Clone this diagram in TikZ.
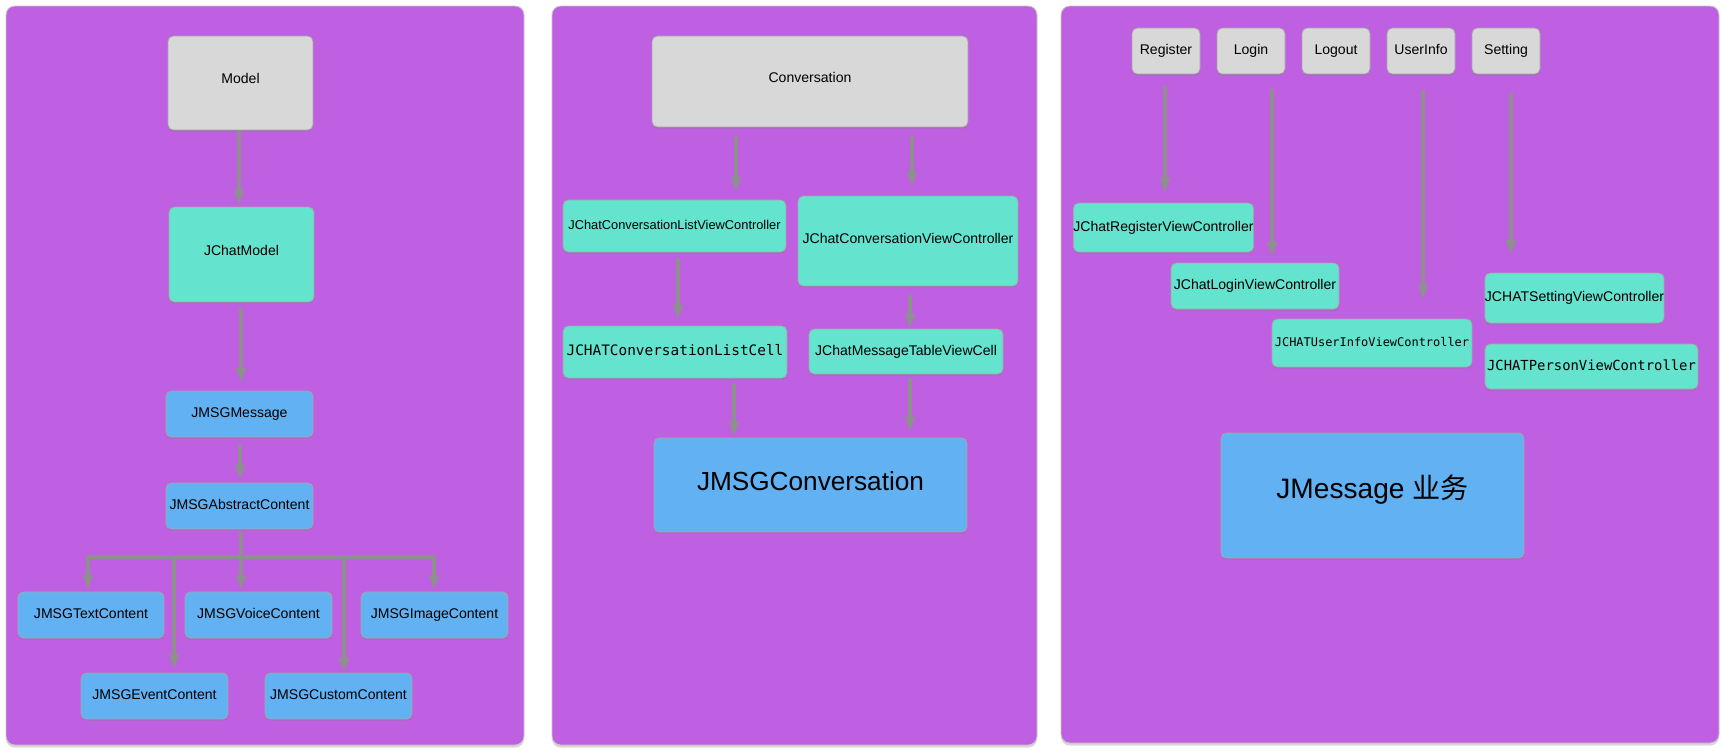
\documentclass[tikz,border=0pt]{standalone}
\usepackage{fontspec}
\setmainfont{Liberation Sans}
\setmonofont{DejaVu Sans Mono}
\newfontfamily\cjk{Noto Sans CJK SC}
\usetikzlibrary{arrows.meta,shadows}

\definecolor{panelpurple}{RGB}{191,95,226}
\definecolor{boxgray}{RGB}{216,216,216}
\definecolor{boxteal}{RGB}{100,227,207}
\definecolor{boxblue}{RGB}{98,177,243}
\definecolor{arrowgray}{RGB}{143,143,143}

\begin{document}
\begin{tikzpicture}[x=0.02cm,y=-0.02cm,shorten >=1pt]
  \tikzstyle{panel}=[fill=panelpurple,draw=black!22,line width=0.5pt,rounded corners=5pt,
    drop shadow={shadow xshift=0pt,shadow yshift=-1.5pt,opacity=0.3}]
  \tikzstyle{box}=[rectangle,rounded corners=3pt,draw=black!35,line width=0.4pt,
    inner sep=0pt,font=\fontsize{8}{9.6}\selectfont,text height=5.8pt,text depth=1.8pt,
    drop shadow={shadow xshift=0pt,shadow yshift=-1pt,opacity=0.3}]
  \tikzstyle{graybox}=[box,fill=boxgray]
  \tikzstyle{tealbox}=[box,fill=boxteal]
  \tikzstyle{bluebox}=[box,fill=boxblue]
  \tikzstyle{tall}=[text depth=5pt]
  \tikzstyle{flow}=[draw=arrowgray,line width=1.8pt,-{Triangle[length=8.5pt,width=5.5pt]}]

  \fill[white] (0,0) rectangle (1722,751);
  \useasboundingbox (0,0) rectangle (1722,751);

  % panels
  \draw[panel] (6,6) rectangle (524,745);
  \draw[panel] (552,6) rectangle (1037,745);
  \draw[panel] (1061,6) rectangle (1719,743);

  % model side
  \node[graybox,tall,minimum width=2.9cm,minimum height=1.88cm] (model) at (240.5,83) {Model};
  \node[tealbox,tall,minimum width=2.9cm,minimum height=1.9cm] (jmodel) at (241.5,254.5) {JChatModel};
  \node[bluebox,minimum width=2.94cm,minimum height=0.92cm] (message) at (239.5,414) {JMSGMessage};
  \node[bluebox,minimum width=2.94cm,minimum height=0.92cm] (abstract) at (239.5,506) {JMSGAbstractContent};
  \node[bluebox,minimum width=2.92cm,minimum height=0.92cm] (textc) at (91,615) {JMSGTextContent};
  \node[bluebox,minimum width=2.94cm,minimum height=0.92cm] (voice) at (258.5,615) {JMSGVoiceContent};
  \node[bluebox,minimum width=2.94cm,minimum height=0.92cm] (image) at (434.5,615) {JMSGImageContent};
  \node[bluebox,minimum width=2.94cm,minimum height=0.92cm] (event) at (154.5,696) {JMSGEventContent};
  \node[bluebox,minimum width=2.94cm,minimum height=0.92cm] (custom) at (338.5,696) {JMSGCustomContent};
  \coordinate (fork) at (241,557);

  \draw[flow] (model.south -| 239,0) -- (jmodel.north -| 239,0);
  \draw[flow,shorten <=3.4pt,shorten >=4.5pt] (jmodel.south -| 241,0) -- (message.north -| 241,0);
  \draw[flow,shorten <=4.5pt,shorten >=1.7pt] (message.south -| 240,0) -- (abstract.north -| 240,0);
  \draw[flow,-,shorten <=1.5pt] (abstract.south -| fork) -- (fork);
  \draw[flow] (fork) -| (textc.north -| 88,0);
  \draw[flow,shorten >=2pt] (fork) -| (event.north -| 174,0);
  \draw[flow] (fork) -- (voice.north -| fork);
  \draw[flow,shorten >=0pt] (fork) -| (custom.north -| 344,0);
  \draw[flow] (fork) -| (image.north -| 434,0);

  % conversation side
  \node[graybox,tall,minimum width=6.32cm,minimum height=1.82cm] (conv) at (810,81.5) {Conversation};
  \node[tealbox,minimum width=4.46cm,minimum height=1.04cm,font=\fontsize{7.3}{9}\selectfont] (listvc) at (674.5,226) {JChatConversationListViewController};
  \node[tealbox,minimum width=4.4cm,minimum height=1.8cm,text depth=3.2pt] (convvc) at (908,241) {JChatConversationViewController};
  \node[tealbox,minimum width=4.48cm,minimum height=1.04cm,font=\ttfamily\fontsize{8.2}{10}\selectfont] (listcell) at (675,352) {JCHATConversationListCell};
  \node[tealbox,minimum width=3.88cm,minimum height=0.9cm] (tablecell) at (906,351.5) {JChatMessageTableViewCell};
  \node[bluebox,minimum width=6.26cm,minimum height=1.88cm,font=\fontsize{14.9}{18}\selectfont,text height=10.7pt,text depth=4.6pt] (jmsgconv) at (810.5,485) {JMSGConversation};

  \draw[flow,shorten <=5pt,shorten >=4.5pt] (conv.south -| 736,0) -- (listvc.north -| 736,0);
  \draw[flow,shorten <=5pt,shorten >=5pt] (conv.south -| 912,0) -- (convvc.north -| 912,0);
  \draw[flow,shorten <=3.4pt,shorten >=3.4pt] (listvc.south -| 678,0) -- (listcell.north -| 678,0);
  \draw[flow,shorten <=5pt,shorten >=0pt] (convvc.south -| 910,0) -- (tablecell.north -| 910,0);
  \draw[flow,shorten <=2.8pt,shorten >=0.5pt] (listcell.south -| 734,0) -- (jmsgconv.north -| 734,0);
  \draw[flow,shorten <=2.3pt,shorten >=3.4pt] (tablecell.south -| 910,0) -- (jmsgconv.north -| 910,0);

  % business side
  \node[graybox,minimum width=1.36cm,minimum height=0.92cm] (register) at (1166,51) {Register};
  \node[graybox,minimum width=1.36cm,minimum height=0.92cm] (login) at (1251,51) {Login};
  \node[graybox,minimum width=1.36cm,minimum height=0.92cm] (logout) at (1336,51) {Logout};
  \node[graybox,minimum width=1.36cm,minimum height=0.92cm] (userinfo) at (1421,51) {UserInfo};
  \node[graybox,minimum width=1.36cm,minimum height=0.92cm] (setting) at (1506,51) {Setting};
  \node[tealbox,minimum width=3.58cm,minimum height=0.98cm] (registervc) at (1163.5,227.5) {JChatRegisterViewController};
  \node[tealbox,minimum width=3.36cm,minimum height=0.92cm] (loginvc) at (1255,286) {JChatLoginViewController};
  \node[tealbox,minimum width=4cm,minimum height=0.96cm,font=\ttfamily\fontsize{6.8}{8.5}\selectfont] (userinfovc) at (1372,343) {JCHATUserInfoViewController};
  \node[tealbox,minimum width=3.58cm,minimum height=1cm] (settingvc) at (1574.5,298) {JCHATSettingViewController};
  \node[tealbox,minimum width=4.26cm,minimum height=0.9cm,font=\ttfamily\fontsize{7.9}{9.6}\selectfont] (personvc) at (1591.5,366.5) {JCHATPersonViewController};
  \node[bluebox,minimum width=6.06cm,minimum height=2.5cm,font=\fontsize{16}{19}\selectfont,text height=11.5pt,text depth=7.6pt] (business) at (1372.5,495.5) {JMessage {\cjk 业务}};

  \draw[flow,shorten <=6.8pt,shorten >=5.7pt] (register.south -| 1165,0) -- (registervc.north -| 1165,0);
  \draw[flow,shorten <=8.5pt,shorten >=3.4pt] (login.south -| 1272,0) -- (loginvc.north -| 1272,0);
  \draw[flow,shorten <=9pt,shorten >=10.8pt] (userinfo.south -| 1423,0) -- (userinfovc.north -| 1423,0);
  \draw[flow,shorten <=10.8pt,shorten >=10.2pt] (setting.south -| 1511,0) -- (settingvc.north -| 1511,0);
\end{tikzpicture}
\end{document}
